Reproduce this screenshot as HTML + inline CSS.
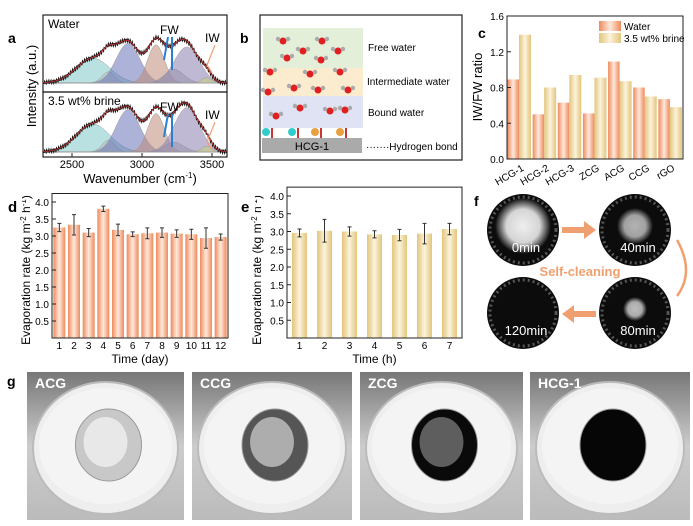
<!DOCTYPE html>
<html><head><meta charset="utf-8"><style>
body{margin:0;background:#fff}
svg{display:block;font-family:"Liberation Sans",sans-serif}
</style></head><body>
<svg id="fig" width="693" height="526" viewBox="0 0 693 526" xmlns="http://www.w3.org/2000/svg">
<defs>
<linearGradient id="gw" x1="0" x2="1"><stop offset="0" stop-color="#ee8a5c"/><stop offset="0.5" stop-color="#fde9dc"/><stop offset="1" stop-color="#ee8a5c"/></linearGradient>
<linearGradient id="gb" x1="0" x2="1"><stop offset="0" stop-color="#e3c57c"/><stop offset="0.5" stop-color="#fbf3dc"/><stop offset="1" stop-color="#e3c57c"/></linearGradient>
<radialGradient id="salt"><stop offset="0" stop-color="#fafafa"/><stop offset="0.6" stop-color="#e0e0e0"/><stop offset="1" stop-color="#e0e0e0" stop-opacity="0"/></radialGradient>
<linearGradient id="bgp" x1="0" y1="0" x2="0" y2="1"><stop offset="0" stop-color="#777"/><stop offset="0.5" stop-color="#ccc"/><stop offset="1" stop-color="#bbb"/></linearGradient>
</defs>
<g id="pa"></g>
<g id="pb"></g>
<g id="pc"></g>
<g id="pd"></g>
<g id="pe"></g>
<g id="pf"></g>
<g id="pg"></g>
</svg>
<script>
// Panel a data
const peakCenters=[2650,2760,2900,3100,3230,3320,3460];
const peakAmpsWater=[0.55,0.25,0.88,0.85,0.3,0.8,0.12];
const peakAmpsBrine=[0.58,0.25,0.88,0.8,0.2,0.92,0.12];
const peakWidths=[120,45,85,60,70,90,35];
const peakColors=["#7fc8c8","#bbb","#6a72b8","#c08a78","#aaa","#8c80b0","#c8d080"];
const waveTicks=[2500,3000,3500];
// Panel c data
const cCats=["HCG-1","HCG-2","HCG-3","ZCG","ACG","CCG","rGO"];
const cWater=[0.89,0.50,0.63,0.51,1.09,0.80,0.67];
const cBrine=[1.39,0.80,0.94,0.91,0.87,0.70,0.58];
const cTicks=[0.0,0.4,0.8,1.2,1.6];
// Panel d data
const dDays=[1,2,3,4,5,6,7,8,9,10,11,12];
const dVals=[3.25,3.33,3.10,3.80,3.18,3.05,3.08,3.10,3.07,3.05,2.94,2.97];
const dErr=[0.12,0.30,0.12,0.08,0.17,0.07,0.16,0.14,0.11,0.15,0.30,0.09];
// Panel e data
const eHours=[1,2,3,4,5,6,7];
const eVals=[2.96,3.02,3.00,2.92,2.90,2.94,3.07];
const eErr=[0.11,0.32,0.13,0.10,0.16,0.29,0.16];
const rateTicks=[0.5,1.0,1.5,2.0,2.5,3.0,3.5,4.0];

const NS="http://www.w3.org/2000/svg";
function mk(p,t,a,txt){const e=document.createElementNS(NS,t);for(const k in a)e.setAttribute(k,a[k]);if(txt!==undefined)e.textContent=txt;p.appendChild(e);return e;}

// ---- Panel a
const pa=document.getElementById('pa');
const ax=w=>72+(w-2500)*70/500;
let lab=mk(pa,'text',{x:8,y:43,'font-size':14,'font-weight':'bold'},'a');

[[15,92,83,45,peakAmpsWater,'Water'],[92,157,152,48,peakAmpsBrine,'3.5 wt% brine']].forEach(([t,b,base,h,amps,name],si)=>{
  const g=mk(pa,'g',{});
  
  
  mk(g,'clipPath',{id:'cp'+si}).appendChild(document.createElementNS(NS,'rect'));
  const cr=g.querySelector('clipPath rect');cr.setAttribute('x',43);cr.setAttribute('y',t);cr.setAttribute('width',184);cr.setAttribute('height',b-t);
  const cg=mk(g,'g',{'clip-path':'url(#cp'+si+')'});
  peakCenters.forEach((c,i)=>{
    let d='M';for(let w=2300;w<=3700;w+=10){d+=ax(w).toFixed(1)+','+(base-h*amps[i]*Math.exp(-((w-c)**2)/(2*peakWidths[i]**2))).toFixed(1)+' L';}
    d=d.slice(0,-2);
    const pk=mk(cg,'path',{d:d+'Z',fill:peakColors[i],'fill-opacity':0.55,stroke:'#999','stroke-width':0.5});
    
  });
  let d='M',dr='M';
  for(let w=2300;w<=3700;w+=5){let s=0;peakCenters.forEach((c,i)=>s+=amps[i]*Math.exp(-((w-c)**2)/(2*peakWidths[i]**2)));
    const y=base-h*s;d+=ax(w).toFixed(1)+','+(y+Math.sin(w*1.7)*1.5).toFixed(1)+' L';dr+=ax(w).toFixed(1)+','+y.toFixed(1)+' L';}
  const raw=mk(cg,'path',{d:d.slice(0,-2),fill:'none',stroke:'#111','stroke-width':1.3});
  
  const fit=mk(cg,'path',{d:dr.slice(0,-2),fill:'none',stroke:'#d33','stroke-width':0.8});
  
  const fr=mk(g,'rect',{x:43,y:t,width:184,height:b-t,fill:'none',stroke:'#222','stroke-width':1.2});
  
  const tl=mk(g,'text',{x:48,y:t+13,'font-size':12},name);
  
  const fw=mk(g,'text',{x:160,y:t+19,'font-size':12},'FW');
  
  const iw=mk(g,'text',{x:205,y:t+27,'font-size':12},'IW');
  
  mk(g,'path',{d:`M168 ${t+22} L164 ${t+45} M172 ${t+22} L172 ${t+55}`,stroke:'#2a7fd0','stroke-width':2,fill:'none'});
  mk(g,'path',{d:`M215 ${t+30} L207 ${t+50} L212 ${t+58}`,stroke:'#f0a070','stroke-width':1.2,fill:'none'});
});
waveTicks.forEach(w=>{
  mk(pa,'line',{x1:ax(w),x2:ax(w),y1:157,y2:153,stroke:'#222'});
  const t=mk(pa,'text',{x:ax(w),y:168,'font-size':11,'text-anchor':'middle'},w);
  
});
let xt=mk(pa,'text',{x:140,y:183,'font-size':13,'text-anchor':'middle'});
xt.innerHTML='Wavenumber (cm<tspan dy="-5" font-size="8">-1</tspan><tspan dy="5">)</tspan>';

let yt=mk(pa,'text',{x:36,y:86,'font-size':13,'text-anchor':'middle',transform:'rotate(-90 36 86)'},'Intensity (a.u.)');


// ---- Panel b
const pb=document.getElementById('pb');
lab=mk(pb,'text',{x:240,y:43,'font-size':14,'font-weight':'bold'},'b');

mk(pb,'rect',{x:260,y:15,width:202,height:145,fill:'#fff',stroke:'#222','stroke-width':1.2});
mk(pb,'rect',{x:263,y:28,width:100,height:40,fill:'#e3efd9'});
mk(pb,'rect',{x:263,y:68,width:100,height:28,fill:'#fbecd0'});
mk(pb,'rect',{x:263,y:96,width:100,height:32,fill:'#dfe3f3'});
const base=mk(pb,'rect',{x:262,y:138,width:100,height:15,fill:'#aaa'});

mk(pb,'text',{x:312,y:150,'font-size':11,'text-anchor':'middle'},'HCG-1');
const mol=[[283,41],[322,41],[303,51],[338,51],[287,58],[321,60],[270,72],[310,74],[340,72],[268,92],[294,88],[318,90],[348,90],[276,116],[300,108],[330,111],[345,110]];
mol.forEach(([x,y])=>{mk(pb,'circle',{cx:x,cy:y,r:3.5,fill:'#e02020'});mk(pb,'circle',{cx:x-5,cy:y-2,r:2.2,fill:'#aaa'});mk(pb,'circle',{cx:x+5,cy:y-2,r:2.2,fill:'#aaa'});});
[[266,'#3cc'],[292,'#3cc'],[315,'#e9a040'],[340,'#e9a040']].forEach(([x,c])=>{mk(pb,'circle',{cx:x,cy:132,r:4,fill:c});mk(pb,'line',{x1:x+6,x2:x+6,y1:128,y2:138,stroke:'#c33','stroke-width':2});});
[['Free water',368,51],['Intermediate water',367,85],['Bound water',368,116],['·······Hydrogen bond',366,150]].forEach(([t,x,y])=>{
  const e=mk(pb,'text',{x:x,y:y,'font-size':10},t);});

// ---- Panel c
const pc=document.getElementById('pc');
lab=mk(pc,'text',{x:478,y:38,'font-size':14,'font-weight':'bold'},'c');

const cy=v=>159-v/1.6*143, cL=507, cW=176, gw=cW/cCats.length;
cCats.forEach((c,i)=>{
  const x0=cL+i*gw;
  let r=mk(pc,'rect',{x:x0+0.5,y:cy(cWater[i]),width:11.5,height:159-cy(cWater[i]),fill:'url(#gw)'});
  
  r=mk(pc,'rect',{x:x0+12,y:cy(cBrine[i]),width:12,height:159-cy(cBrine[i]),fill:'url(#gb)'});
  
  const t=mk(pc,'text',{x:x0+gw/2+5,y:170,'font-size':10,'text-anchor':'end',transform:`rotate(-30 ${x0+gw/2+5} 170)`},c);
  
});
mk(pc,'rect',{x:cL,y:16,width:cW,height:143,fill:'none',stroke:'#222','stroke-width':1});
cTicks.forEach(v=>{mk(pc,'line',{x1:cL,x2:cL+4,y1:cy(v),y2:cy(v),stroke:'#222'});
  const t=mk(pc,'text',{x:cL-3,y:cy(v)+4,'font-size':10,'text-anchor':'end'},v.toFixed(1));
  });
yt=mk(pc,'text',{x:482,y:87,'font-size':13,'text-anchor':'middle',transform:'rotate(-90 482 87)'},'IW/FW ratio');

[['url(#gw)','Water',21],['url(#gb)','3.5 wt% brine',33]].forEach(([f,t,y])=>{
  const g=mk(pc,'g',{});
  mk(g,'rect',{x:599,y:y,width:22,height:10,fill:f});mk(g,'text',{x:624,y:y+9,'font-size':10},t);});

// ---- bar panels d/e
function barPanel(gid,letter,cats,vals,errs,L,R,base,perUnit,bw,fill,xtitle,lx,tx){
  const p=document.getElementById(gid);
  const yx=tx,yy=270;
  const yt=mk(p,'text',{x:yx,y:yy,'font-size':12,'text-anchor':'middle',transform:`rotate(-90 ${yx} ${yy})`});
  yt.innerHTML='Evaporation rate (kg m<tspan dy="-4" font-size="8">-2</tspan><tspan dy="4"> h</tspan><tspan dy="-4" font-size="8">-1</tspan><tspan dy="4">)</tspan>';
  
  mk(p,'rect',{x:lx-2,y:196,width:16,height:18,fill:'#fff'});
  const l=mk(p,'text',{x:lx,y:212,'font-size':15,'font-weight':'bold'},letter);
  
  const y=v=>base-v*perUnit, step=(R-L)/cats.length;
  cats.forEach((c,i)=>{
    const cx=L+step*(i+0.5);
    const r=mk(p,'rect',{x:cx-bw/2,y:y(vals[i]),width:bw,height:base-y(vals[i]),fill:fill});
    
    const e=mk(p,'path',{d:`M${cx} ${y(vals[i]+errs[i])} V${y(vals[i]-errs[i])} M${cx-2} ${y(vals[i]+errs[i])} h4 M${cx-2} ${y(vals[i]-errs[i])} h4`,stroke:'#333','stroke-width':1,fill:'none'});
    
    const t=mk(p,'text',{x:cx,y:349,'font-size':10,'text-anchor':'middle'},c);
    
  });
  mk(p,'rect',{x:L,y:y(4.25),width:R-L,height:base-y(4.25),fill:'none',stroke:'#222','stroke-width':1});
  rateTicks.forEach(v=>{mk(p,'line',{x1:L,x2:L+4,y1:y(v),y2:y(v),stroke:'#222'});
    const t=mk(p,'text',{x:L-3,y:y(v)+4,'font-size':10,'text-anchor':'end'},v.toFixed(1));
    });
  const xt=mk(p,'text',{x:(L+R)/2,y:363,'font-size':12,'text-anchor':'middle'},xtitle);
  
}
barPanel('pd','d',dDays,dVals,dErr,52,228,338,34,12,'url(#gw)','Time (day)',8,30);
barPanel('pe','e',eHours,eVals,eErr,287,462,338,35.5,15,'url(#gb)','Time (h)',241,261);

// ---- Panel f
const pf=document.getElementById('pf');
lab=mk(pf,'text',{x:474,y:206,'font-size':14,'font-weight':'bold'},'f');

[[523,230,28,'0min',0.95],[635,230,18,'40min',0.7],[635,313,12,'80min',0.75],[523,313,0,'120min',0]].forEach(([x,y,sr,t,o])=>{
  const g=mk(pf,'g',{});
  mk(g,'circle',{cx:x,cy:y,r:36,fill:'#0c0c0c'});
  mk(g,'circle',{cx:x,cy:y,r:33,fill:'none',stroke:'#555','stroke-width':3,'stroke-dasharray':'2 3'});
  if(sr)mk(g,'circle',{cx:x,cy:y-4,r:sr,fill:'url(#salt)','fill-opacity':o});
  mk(g,'text',{x:x+3,y:y+22,'font-size':13,fill:'#fff','text-anchor':'middle'},t);
});
mk(pf,'path',{d:'M562 227 h22 v-6 l12 9 l-12 9 v-6 h-22z',fill:'#f0a070'});
mk(pf,'path',{d:'M596 311 h-22 v-6 l-12 9 l12 9 v-6 h22z',fill:'#f0a070'});
mk(pf,'path',{d:'M677 240 Q695 272 677 296',fill:'none',stroke:'#f0a070','stroke-width':2.5});
let sc=mk(pf,'text',{x:580,y:276,'font-size':13,'font-weight':'bold',fill:'#f0a070','text-anchor':'middle'},'Self-cleaning');


// ---- Panel g
const pg=document.getElementById('pg');
lab=mk(pg,'text',{x:7,y:386,'font-size':14,'font-weight':'bold'},'g');

[['ACG',27,157,'#c8c8c8',0.2],['CCG',192,160,'#555',0.6],['ZCG',360,163,'#0a0a0a',0.9],['HCG-1',530,160,'#060606',1]].forEach(([n,x,w,c,o])=>{
  const g=mk(pg,'g',{});
  mk(g,'rect',{x:x,y:372,width:w,height:148,fill:'url(#bgp)'});
  mk(g,'ellipse',{cx:x+w/2,cy:448,rx:w/2-6,ry:66,fill:'#eee',stroke:'#bbb','stroke-width':2});
  mk(g,'ellipse',{cx:x+w/2,cy:446,rx:w/2-12,ry:58,fill:'#f4f4f4'});
  mk(g,'ellipse',{cx:x+w/2+3,cy:445,rx:33,ry:36,fill:c,stroke:'#999'});
  if(o<1)mk(g,'ellipse',{cx:x+w/2,cy:442,rx:22,ry:25,fill:'#eee','fill-opacity':1-o*0.7});
  mk(g,'text',{x:x+8,y:388,'font-size':14,'font-weight':'bold',fill:'#fff'},n);
});
</script>
</body></html>
